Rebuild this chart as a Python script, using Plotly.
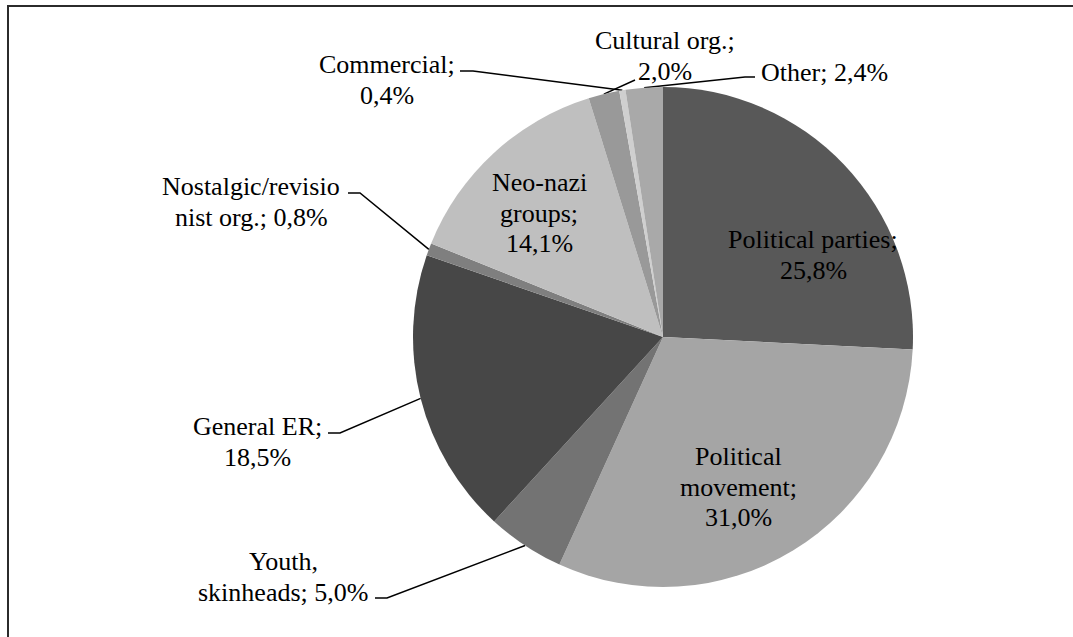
import math
import plotly.graph_objects as go

# ---- data ----
categories = ["Political parties", "Political movement", "Youth, skinheads", "General ER",
              "Nostalgic/revisionist org.", "Neo-nazi groups", "Cultural org.", "Commercial", "Other"]
shares = [25.8, 31.0, 5.0, 18.5, 0.8, 14.1, 2.0, 0.4, 2.4]
label_lines = [
    ["Political parties;", "{v}"],
    ["Political", "movement;", "{v}"],
    ["Youth,", "skinheads; {v}"],
    ["General ER;", "{v}"],
    ["Nostalgic/revisio", "nist org.; {v}"],
    ["Neo-nazi", "groups;", "{v}"],
    ["Cultural org.;", "{v}"],
    ["Commercial;", "{v}"],
    ["Other; {v}"],
]

# ---- style / layout ----
W, H = 1073, 637
CX, CY, R = 663, 337, 250
colors = ["#585858", "#a5a5a5", "#737373", "#474747", "#7f7f7f", "#bfbfbf", "#999999", "#cfcfcf", "#a9a9a9"]
FONT = "Liberation Serif"
FS = 26
LINE_H = 30.5
label_pos = [(813, 255), (738, 487), (283, 577), (257, 442), (251, 202),
             (539, 213), (665, 56), (387, 80), (824, 72)]
leader_start = [None, None, [(375, 598), (387, 598)], [(328, 433), (340, 433)],
                [(348, 193), (360, 193)], None, [(635, 80)], [(460, 71), (473, 71)],
                [(755, 77), (745, 77)]]

fig = go.Figure()

fig.add_trace(go.Pie(
    labels=categories, values=shares, sort=False, direction="clockwise", rotation=0,
    marker=dict(colors=colors, line=dict(width=0)),
    textinfo="none", hoverinfo="label+percent", showlegend=False,
    domain=dict(x=[(CX - R) / W, (CX + R) / W],
                y=[(H - CY - R) / H, (H - CY + R) / H]),
))

total = sum(shares)
cum = 0.0
for i, v in enumerate(shares):
    mid = (cum + v / 2) / total * 2 * math.pi
    cum += v
    ex = CX + R * math.sin(mid)
    ey = CY - R * math.cos(mid)
    vs = f"{v:.1f}".replace(".", ",") + "%"
    lines = [ln.replace("{v}", vs) for ln in label_lines[i]]
    lx, ly = label_pos[i]
    n = len(lines)
    for k, ln in enumerate(lines):
        fig.add_annotation(x=lx, y=ly + (k - (n - 1) / 2) * LINE_H, xref="x", yref="y",
                           text=ln, showarrow=False, xanchor="center", yanchor="middle",
                           font=dict(family=FONT, size=FS, color="black"))
    if leader_start[i] is not None:
        pts = leader_start[i] + [(ex, ey)]
        fig.add_trace(go.Scatter(x=[p[0] for p in pts], y=[p[1] for p in pts], mode="lines",
                                 line=dict(color="black", width=1.5), hoverinfo="skip",
                                 showlegend=False))

fig.add_shape(type="rect", xref="x", yref="y", x0=8, y0=6, x1=W + 100, y1=H + 100,
              line=dict(color="#2b2b2b", width=2), fillcolor="rgba(0,0,0,0)")

fig.update_layout(
    width=W, height=H, margin=dict(l=0, r=0, t=0, b=0),
    paper_bgcolor="white", plot_bgcolor="rgba(0,0,0,0)",
    xaxis=dict(range=[0, W], visible=False, fixedrange=True, domain=[0, 1]),
    yaxis=dict(range=[H, 0], visible=False, fixedrange=True, domain=[0, 1]),
    font=dict(family=FONT, size=FS, color="black"),
)

fig.write_html("out.html", config={"displayModeBar": False},
               post_script="document.body.style.margin='0';")
